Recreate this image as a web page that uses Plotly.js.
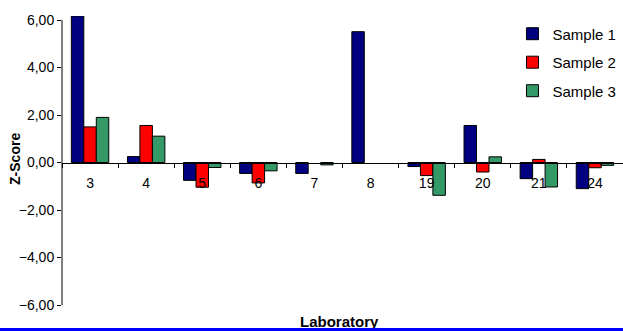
<!DOCTYPE html>
<html>
<head>
<meta charset="utf-8">
<script src="https://cdn.plot.ly/plotly-3.0.1.min.js"></script>
<style>
  html, body { margin: 0; padding: 0; background: #ffffff; overflow: hidden; }
  #wrap { width: 623px; height: 331px; position: relative; }
  #chart { width: 623px; height: 331px; }
  #rule { position: absolute; left: 0; bottom: 0; width: 623px; height: 3px; background: #0000ff; }
</style>
</head>
<body>
<div id="wrap">
  <div id="chart"></div>
  <div id="rule"></div>
</div>
<script>
// Laboratories (category axis)
const laboratories = ['3', '4', '5', '6', '7', '8', '19', '20', '21', '24'];

// Z-scores per sample (null = no result reported)
const sample1 = [6.17, 0.25, -0.75, -0.46, -0.46, 5.51, -0.17, 1.56, -0.68, -1.10];
const sample2 = [1.50, 1.56, -1.04, -0.86, null, null, -0.55, -0.40, 0.13, -0.22];
const sample3 = [1.90, 1.11, -0.21, -0.35, -0.10, null, -1.38, 0.24, -1.03, -0.12];

const seriesNames = ['Sample 1', 'Sample 2', 'Sample 3'];
const seriesColors = ['#000080', '#ff0000', '#339966'];

const yMin = -6, yMax = 6.17;
const FONT = 'Liberation Sans, Arial, sans-serif';

const traces = [sample1, sample2, sample3].map((vals, i) => ({
  type: 'bar',
  name: seriesNames[i],
  x: laboratories,
  y: vals,
  legendgroup: 'g' + i,
  marker: { color: seriesColors[i], line: { color: '#000000', width: 1 } },
  hoverinfo: 'skip'
}));

const layout = {
  width: 623,
  height: 331,
  margin: { l: 62, r: 0, t: 16, b: 26, autoexpand: false },
  paper_bgcolor: '#ffffff',
  plot_bgcolor: '#ffffff',
  font: { family: FONT, size: 14, color: '#000000' },
  separators: ',.',
  barmode: 'group',
  bargap: 0.333,
  bargroupgap: 0,
  showlegend: true,
  legend: {
    x: 0.803, y: 0.995, xanchor: 'left', yanchor: 'top',
    bgcolor: 'rgba(0,0,0,0)',
    borderwidth: 0,
    font: { family: FONT, size: 15, color: '#000000' },
    traceorder: 'grouped',
    tracegroupgap: 6,
    itemwidth: 30
  },
  xaxis: {
    type: 'category',
    anchor: 'free',
    position: (0 - yMin) / (yMax - yMin),
    showline: true, linecolor: '#000000', linewidth: 1,
    showgrid: false, zeroline: false,
    ticks: 'outside', tickson: 'boundaries', ticklen: 4, tickcolor: '#000000',
    ticklabelstandoff: 8,
    tickfont: { family: FONT, size: 14, color: '#000000' },
    title: { text: '' },
    fixedrange: true
  },
  yaxis: {
    range: [yMin, yMax],
    tickmode: 'array',
    tickvals: [-6, -4, -2, 0, 2, 4, 6],
    tickformat: '.2f',
    showline: false, showgrid: false, zeroline: false,
    ticks: 'outside', ticklen: 4, tickcolor: '#000000',
    tickfont: { family: FONT, size: 14, color: '#000000' },
    title: { text: '' },
    fixedrange: true
  },
  annotations: [{
    text: '<b>Laboratory</b>',
    xref: 'paper', yref: 'paper',
    x: 0.495, y: -0.056, xanchor: 'center', yanchor: 'middle',
    showarrow: false,
    font: { family: FONT, size: 15, color: '#000000' }
  }, {
    text: '<b>Z-Score</b>',
    xref: 'paper', yref: 'paper',
    x: -0.084, y: 0.505, xanchor: 'center', yanchor: 'middle',
    textangle: -90,
    showarrow: false,
    font: { family: FONT, size: 14, color: '#000000' }
  }],
  shapes: [{
    // value axis line runs from -6 to 6
    type: 'line', xref: 'paper', yref: 'y',
    x0: 0, x1: 0, y0: yMin, y1: 6,
    line: { color: '#000000', width: 1 },
    layer: 'above'
  }]
};

Plotly.newPlot('chart', traces, layout, { staticPlot: true, displayModeBar: false });
</script>
</body>
</html>
